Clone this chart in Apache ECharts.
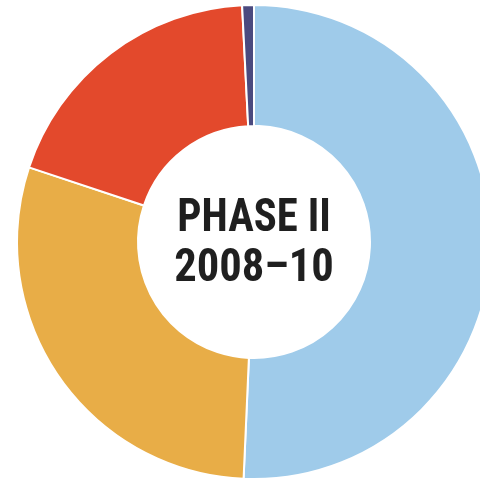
<!DOCTYPE html>
<html>
<head>
<meta charset="utf-8">
<script src="https://cdn.jsdelivr.net/npm/echarts@6/dist/echarts.min.js"></script>
<style>
  html, body { margin: 0; padding: 0; background: #ffffff; }
  #chart { width: 480px; height: 481px; }
</style>
</head>
<body>
<div id="chart"></div>
<script>
// Funding shares by source, phase II (2008–10)
const categories = ['Source A', 'Source B', 'Source C', 'Source D'];
const shares = [50.7, 29.4, 19.1, 0.8];
const colors = ['#9fcbea', '#e8ad47', '#e3492c', '#4b4a7f'];
const titleLines = ['PHASE II', '2008–10'];

const chart = echarts.init(document.getElementById('chart'), null, { renderer: 'canvas' });

const cx = 254, cy = 242;
const titleFont = 'bold 46px "Liberation Sans Narrow", "Roboto Condensed", sans-serif';

chart.setOption({
  animation: false,
  series: [{
    type: 'pie',
    center: [cx, cy],
    radius: [116, 237],
    startAngle: 90,
    clockwise: true,
    label: { show: false },
    labelLine: { show: false },
    itemStyle: { borderColor: '#ffffff', borderWidth: 2 },
    emphasis: { disabled: true },
    data: categories.map((name, i) => ({
      name: name,
      value: shares[i],
      itemStyle: { color: colors[i] }
    }))
  }],
  graphic: [
    {
      type: 'text',
      x: cx, y: 219,
      scaleX: 0.93,
      originX: 0,
      style: {
        text: titleLines[0],
        font: titleFont,
        fill: '#1f1f1f',
        align: 'center',
        verticalAlign: 'middle'
      }
    },
    {
      type: 'text',
      x: cx, y: 269,
      scaleX: 0.97,
      originX: 0,
      style: {
        text: titleLines[1],
        font: titleFont,
        fill: '#1f1f1f',
        align: 'center',
        verticalAlign: 'middle'
      }
    }
  ]
});
</script>
</body>
</html>
